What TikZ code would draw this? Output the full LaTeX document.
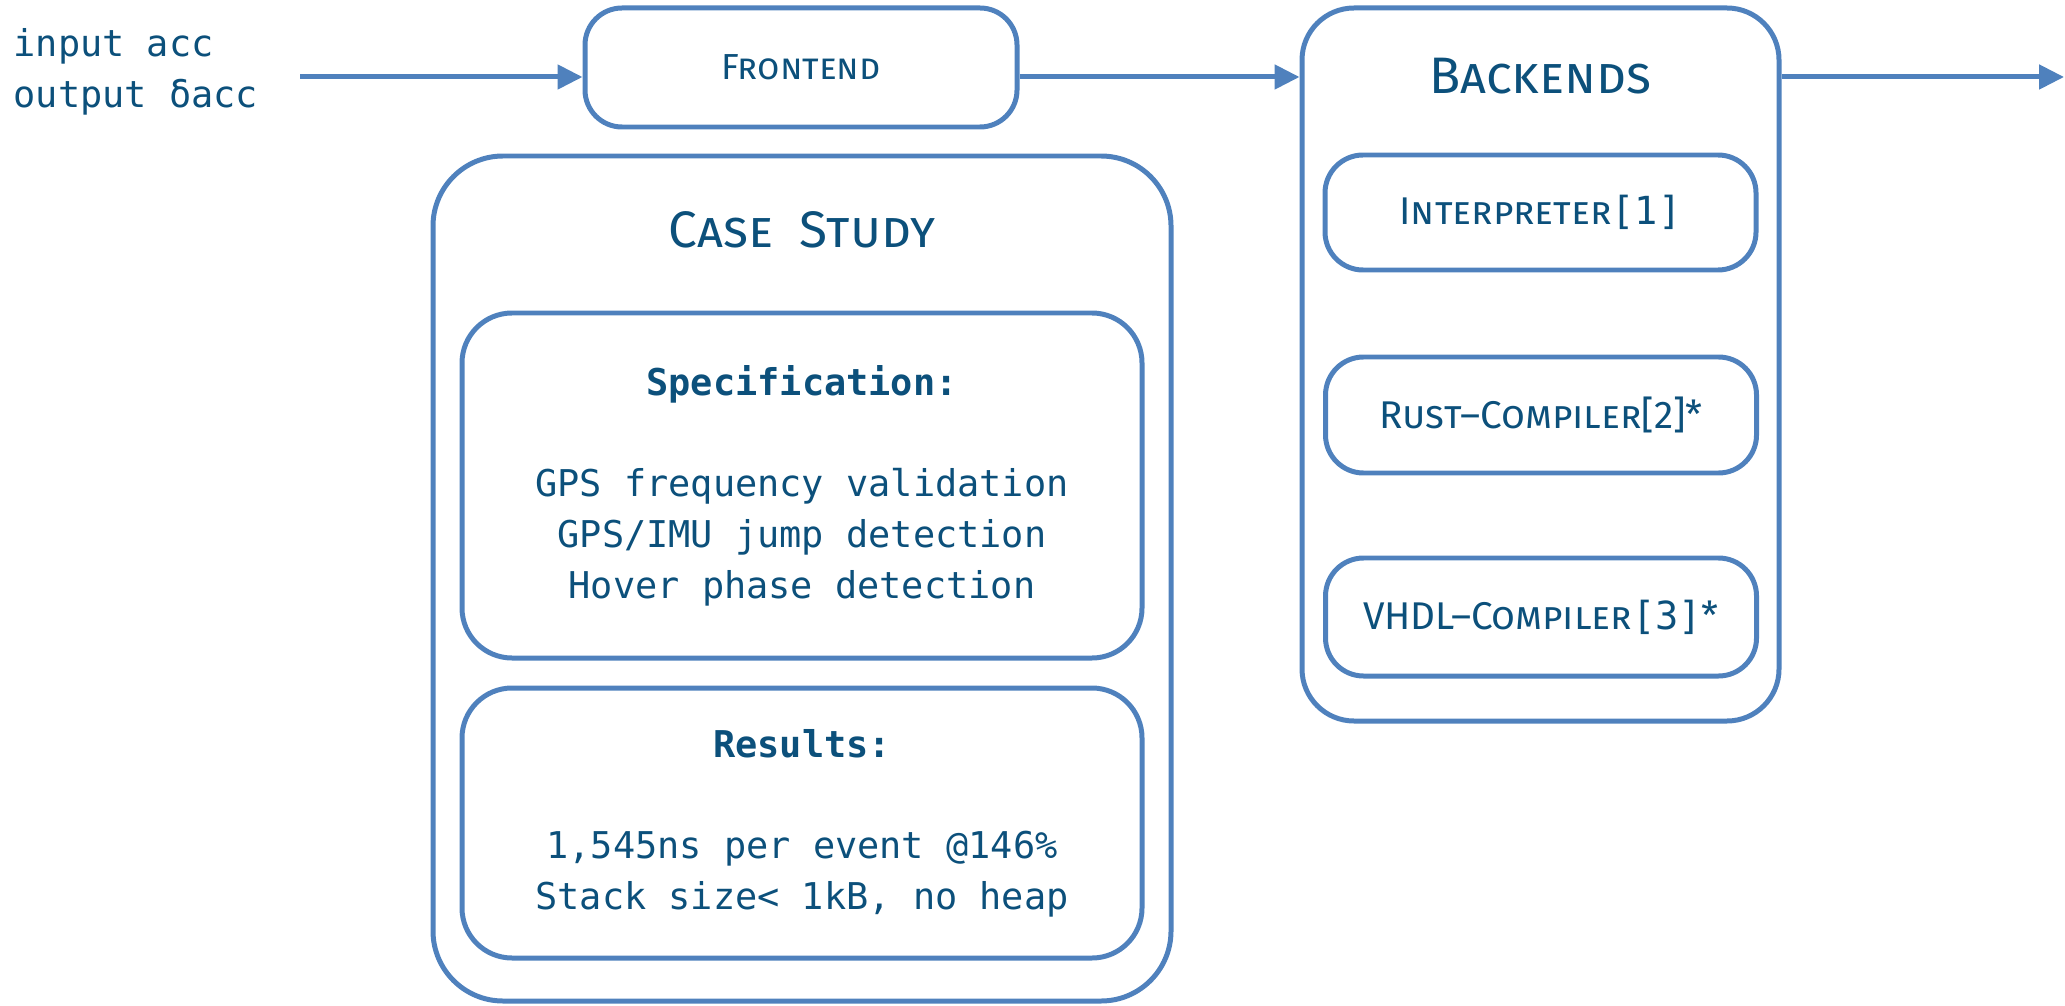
\documentclass[tikz,border=0pt]{standalone}
\usepackage{fontspec}
\setmonofont{DejaVu Sans Mono}
\newfontfamily\scfam{Fira Sans}
\usetikzlibrary{arrows.meta}
\definecolor{lineblue}{RGB}{79,129,189}
\definecolor{inkblue}{RGB}{12,80,123}
\tikzset{
    BX/.style ={rectangle, rounded corners=#1, draw=lineblue, line width=1.42pt, inner sep=0pt, align=center},
    TT/.style ={font=\scfam\scshape\fontsize{14.6}{18}\selectfont},
    ST/.style ={font=\scfam\scshape\fontsize{11}{13}\selectfont},
    FT/.style ={font=\scfam\scshape\fontsize{10.3}{13}\selectfont},
    FL/.style ={draw=lineblue, line width=1.42pt, -{Triangle[length=0.25cm,width=0.24cm]}}}

\begin{document}
\begin{tikzpicture}
        [every node/.style={text=inkblue,font=\ttfamily\fontsize{10.5}{14.5}\selectfont},
        tx/.style={align=left,anchor=west,inner sep=0pt}]
    \useasboundingbox (0,0) rectangle (20.65,-10.05);
    \node[tx](inp) at(0.13,-0.72){input acc\\output δacc};
    \node[BX=0.37cm,FT,minimum width=4.32cm,minimum height=1.19cm](front) at(8.01,-0.675){Frontend};
    \node[BX=0.52cm,minimum width=4.77cm,minimum height=7.13cm](back) at(15.405,-3.645){};
    \node[TT,anchor=base](backt) at(15.405,-0.94){Backends};
    \node[BX=0.38cm,ST,minimum width=4.31cm,minimum height=1.15cm](interp) at(15.405,-2.125){Interpreter\texttt{[1]}};
    \node[BX=0.38cm,ST,minimum width=4.31cm,minimum height=1.16cm](rust) at(15.41,-4.15){Rust–Compiler[2]*};
    \node[BX=0.38cm,ST,minimum width=4.31cm,minimum height=1.18cm](vhdl) at(15.41,-6.17){VHDL–Compiler\texttt{[3]}*};
    \node[BX=0.7cm,minimum width=7.38cm,minimum height=8.45cm](case) at(8.02,-5.785){};
    \node[TT,anchor=base](caset) at(8.02,-2.48){Case\enspace Study};
    \node[BX=0.5cm,minimum width=6.80cm,minimum height=3.45cm](spec) at(8.02,-4.855)
        {\textbf{Specification:}\\[0.5cm]GPS frequency validation\\GPS/IMU jump detection\\Hover phase detection};
    \node[BX=0.5cm,minimum width=6.80cm,minimum height=2.70cm](res) at(8.02,-8.23)
        {\textbf{Results:}\\[0.5cm]1,545ns per event @146\%\\Stack size< 1kB, no heap};
    \coordinate(start) at(3.00,-0.77);
    \coordinate(out) at(20.64,-0.77);
    \draw[FL] (start) -- (start -| front.west);
    \draw[FL] (start -| front.east) -- (start -| back.west);
    \draw[FL] (start -| back.east) -- (out);
\end{tikzpicture}
\end{document}
